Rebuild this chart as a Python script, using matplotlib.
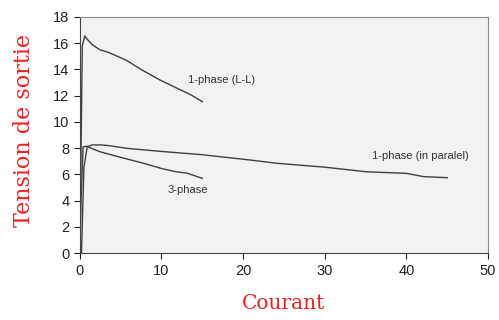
import matplotlib
matplotlib.use("Agg")
import matplotlib.pyplot as plt

# 1-phase (L-L)
ll_x = [0, 0.15, 0.3, 0.6, 0.9, 1.5, 2.45, 3.5, 5.7, 7.5, 9.8, 11.8, 13.5, 15.0]
ll_y = [0, 8.0, 15.8, 16.55, 16.3, 15.9, 15.5, 15.3, 14.7, 14.0, 13.2, 12.6, 12.1, 11.55]

# 3-phase
tp_x = [0, 0.15, 0.4, 0.8, 2.45, 5.0, 7.8, 10.0, 11.8, 13.1, 15.0]
tp_y = [0, 4.0, 8.1, 8.15, 7.73, 7.3, 6.85, 6.45, 6.2, 6.1, 5.7]

# 1-phase (in paralel)
pp_x = [0.2, 0.5, 0.9, 1.5, 2.5, 3.5, 5.7, 10.0, 15.0, 20.8, 24.1, 30.0, 35.1, 40.0, 42.1, 45.0]
pp_y = [0, 6.5, 8.1, 8.25, 8.25, 8.2, 7.99, 7.75, 7.5, 7.1, 6.85, 6.55, 6.2, 6.08, 5.83, 5.75]

labels = ["1-phase (L-L)", "3-phase", "1-phase (in paralel)"]
x_ticks = [0, 10, 20, 30, 40, 50]
y_ticks = [0, 2, 4, 6, 8, 10, 12, 14, 16, 18]

fig = plt.figure(figsize=(4.99, 3.2), dpi=100)
ax = fig.add_axes([0.160, 0.209, 0.818, 0.738])
ax.set_facecolor("#f3f2f2")
lc = "#3f3f3f"
ax.plot(ll_x, ll_y, color=lc, lw=1.0)
ax.plot(tp_x, tp_y, color=lc, lw=1.0)
ax.plot(pp_x, pp_y, color=lc, lw=1.0)

tf = dict(fontsize=8, color="#333333", family="Liberation Sans")
ax.text(13.2, 13.2, labels[0], va="center", ha="left", **tf)
ax.text(10.8, 4.8, labels[1], va="center", ha="left", **tf)
ax.text(35.8, 7.4, labels[2], va="center", ha="left", **tf)

ax.set_xlim(0, 50)
ax.set_ylim(0, 18)
ax.set_xticks(x_ticks)
ax.set_yticks(y_ticks)
ax.tick_params(axis="both", labelsize=10.5, colors="#222222", length=4, width=0.8, direction="out")
for lab in ax.get_xticklabels() + ax.get_yticklabels():
    lab.set_family("Liberation Sans")
for s in ["left", "bottom"]:
    ax.spines[s].set_color("#444444")
for s in ["top", "right"]:
    ax.spines[s].set_color("#888888")

ax.set_xlabel("Courant", family="DejaVu Serif", fontsize=14.5, color="#e8231f",
              labelpad=12)
ax.set_ylabel("Tension de sortie", family="DejaVu Serif", fontsize=16, color="#e8231f",
              labelpad=10)
ax.yaxis.set_label_coords(-0.11, 0.52)

fig.savefig("out.png", dpi=100)
